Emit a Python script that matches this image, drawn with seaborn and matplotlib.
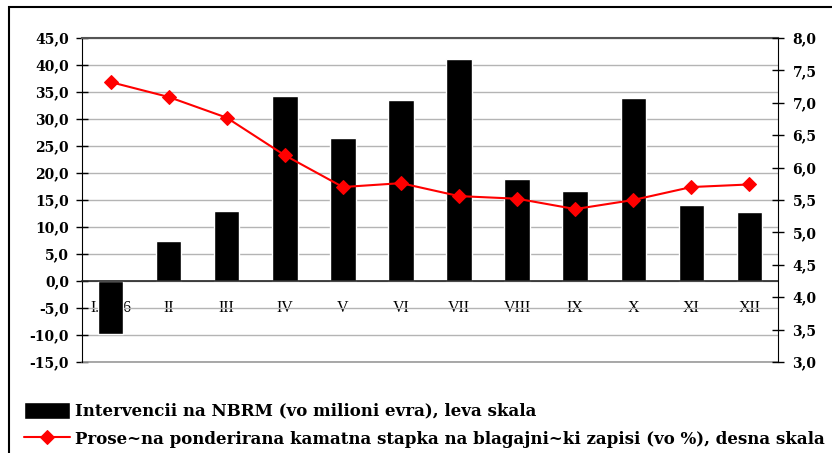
import numpy as np
import matplotlib
matplotlib.use("Agg")
import matplotlib.pyplot as plt
import seaborn as sns
from matplotlib.patches import Rectangle
from matplotlib.ticker import FuncFormatter, MultipleLocator

# podatoci
meseci = ["I.2006", "II", "III", "IV", "V", "VI", "VII", "VIII", "IX", "X", "XI", "XII"]
intervencii = [-9.8, 7.5, 13.0, 34.3, 26.4, 33.5, 41.2, 18.8, 16.6, 33.8, 14.0, 12.8]
kamatna_stapka = [7.32, 7.09, 6.77, 6.19, 5.70, 5.76, 5.56, 5.52, 5.36, 5.50, 5.70, 5.74]

lbl_bar = "Intervencii na NBRM (vo milioni evra), leva skala"
lbl_line = "Prose~na ponderirana kamatna stapka na blagajni~ki zapisi (vo %), desna skala"

sns.set_style("white")
plt.rcParams["text.color"] = "black"

fig = plt.figure(figsize=(8.32, 4.53), dpi=100)
ax = fig.add_axes([81.5 / 832, 1 - 362 / 453, (778.5 - 81.5) / 832, (362 - 38) / 453])

sns.barplot(x=meseci, y=intervencii, color="black", width=0.44, saturation=1,
            ax=ax, label=lbl_bar)
if ax.get_legend() is not None:
    ax.get_legend().remove()
ax.set_axisbelow(True)
ax.set_ylim(-15, 45)
ax.set_xlim(-0.5, 11.5)
ax.yaxis.set_major_locator(MultipleLocator(5))
ax.yaxis.grid(True, color="#b4b4b4", linewidth=1)
ax.xaxis.grid(False)
ax.axhline(-15, color="#9a9a9a", linewidth=1.2, clip_on=False, zorder=0.6)

ax2 = ax.twinx()
sns.lineplot(x=np.arange(len(meseci)), y=kamatna_stapka, ax=ax2, color="red",
             marker="D", markersize=7, markeredgecolor="red", linewidth=1.5,
             label=lbl_line, legend=False)
ax2.set_ylim(3, 8)
ax2.yaxis.set_major_locator(MultipleLocator(0.5))
ax2.set_xlim(-0.5, 11.5)

fmt = FuncFormatter(lambda v, p: f"{v:.1f}".replace(".", ","))
ax.yaxis.set_major_formatter(fmt)
ax2.yaxis.set_major_formatter(fmt)

# x oska na nula
ax.spines["bottom"].set_position(("data", 0))
ax.spines["bottom"].set_linewidth(1.2)
ax.spines["left"].set_color("black")
ax.spines["top"].set_color("#555555")
ax.spines["top"].set_linewidth(1.5)
for s in ["top", "bottom", "left", "right"]:
    ax2.spines[s].set_visible(False)
ax2.spines["right"].set_visible(True)
ax2.spines["right"].set_color("black")
ax.spines["right"].set_visible(False)

ax.set_xticks(np.arange(len(meseci)))
ax.set_xticklabels(meseci, fontfamily="Liberation Serif", fontsize=11.5, color="black")
ax.set_xticks(np.arange(0.5, 11, 1), minor=True)
ax.tick_params(axis="x", which="major", length=0, pad=14, labelcolor="black")
ax.tick_params(axis="x", which="minor", length=7, direction="inout", width=1, color="black")
ax.tick_params(axis="y", length=8, direction="inout", width=1, color="black", pad=5,
               left=True, labelcolor="black")
ax2.tick_params(axis="y", length=8, direction="inout", width=1, color="black", pad=6,
                right=True, labelcolor="black")
for t in ax.get_yticklabels() + ax2.get_yticklabels():
    t.set_fontfamily("DejaVu Serif")
    t.set_fontweight("bold")
    t.set_fontsize(10)
ax.set_xlabel("")
ax.set_ylabel("")
ax2.set_ylabel("")

# ramka okolu grafikot
fig.patches.append(Rectangle((9 / 832, -0.05), 1.2, 1 - 7 / 453 + 0.05,
                             transform=fig.transFigure, fill=False,
                             edgecolor="black", linewidth=1.5))

h1, l1 = ax.get_legend_handles_labels()
h2, l2 = ax2.get_legend_handles_labels()
fig.legend(h1 + h2, l1 + l2, loc="upper left", bbox_to_anchor=(17 / 832, 1 - 395 / 453),
           frameon=False, handlelength=2.8, handleheight=1.2, handletextpad=0.3,
           labelspacing=0.6, borderaxespad=0, labelcolor="black",
           prop={"family": "DejaVu Serif", "weight": "bold", "size": 12})

fig.savefig("out.png", dpi=100)
